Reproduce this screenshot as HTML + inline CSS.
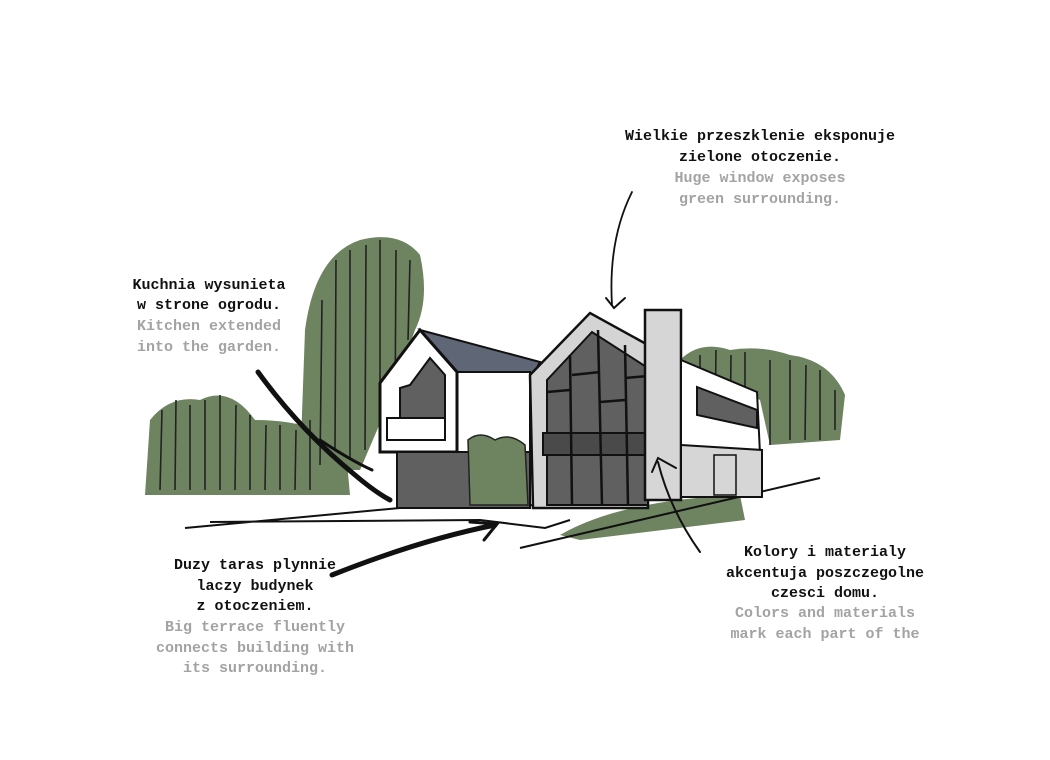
<!DOCTYPE html><html><head><style>body{margin:0;background:#fff}svg{display:block}
text{font-family:"Liberation Mono",monospace;font-weight:bold;font-size:15px;text-anchor:middle}
.g{fill:#a3a3a3}.b{fill:#111}</style></head><body>
<svg width="1050" height="760" viewBox="0 0 1050 760">
<!-- trees -->
<path d="M145,495 L150,420 Q170,395 200,400 Q230,385 255,420 Q290,420 320,430 L345,440 L350,495 Z" fill="#6e8460"/>
<path d="M300,470 L305,330 Q315,255 360,240 Q400,230 420,255 Q430,300 415,330 L390,400 L360,470 Z" fill="#6e8460"/>
<path d="M680,360 Q700,340 730,350 Q760,345 790,355 Q830,360 845,395 L840,440 L770,445 L760,400 Z" fill="#6e8460"/>
<g stroke="#222" stroke-width="1.6" fill="none">
<path d="M160,490 L162,410 M175,490 L176,400 M190,490 L190,405 M205,490 L205,400 M220,490 L220,395 M235,490 L236,405 M250,490 L250,415 M265,490 L266,425 M280,490 L280,425 M295,490 L296,430 M310,490 L310,420 M320,465 L322,300 M335,450 L336,260 M350,460 L350,250 M365,450 L366,245 M380,440 L380,240 M395,420 L396,250 M408,340 L410,260 M700,440 L700,355 M715,430 L716,350 M730,445 L731,355 M745,440 L745,352 M770,445 L770,360 M790,440 L790,360 M805,440 L806,365 M820,440 L820,370 M835,430 L835,390"/>
</g>
<!-- ground -->
<path d="M560,535 Q620,500 740,495 L745,520 L580,540 Z" fill="#6e8460"/>
<path d="M185,528 L400,508 L540,505 M210,522 L480,520 L545,528 L570,520 M520,548 L820,478" stroke="#111" stroke-width="2" fill="none"/>
<!-- left building -->
<polygon points="420,330 540,362 525,390 455,372" fill="#5f6675" stroke="#111" stroke-width="2"/>
<rect x="455" y="372" width="75" height="80" fill="#fff" stroke="#111" stroke-width="2"/>
<polygon points="380,383 420,330 457,372 457,452 380,452" fill="#fff" stroke="#111" stroke-width="3"/>
<polygon points="410,385 430,358 445,375 445,418 400,418 400,388" fill="#606060" stroke="#111" stroke-width="2"/>
<rect x="387" y="418" width="58" height="22" fill="#fff" stroke="#111" stroke-width="2"/>
<rect x="397" y="452" width="133" height="56" fill="#606060" stroke="#111" stroke-width="2"/>
<path d="M470,505 L468,440 Q480,430 495,440 Q510,432 525,445 L528,505 Z" fill="#6e8460" stroke="#222" stroke-width="1.5"/>
<!-- main gable -->
<polygon points="530,375 590,313 648,345 648,508 533,508" fill="#d4d4d4" stroke="#111" stroke-width="2.5"/>
<polygon points="547,380 592,332 648,368 648,505 547,505" fill="#606060" stroke="#111" stroke-width="2"/>
<rect x="543" y="433" width="106" height="22" fill="#4a4a4a" stroke="#111" stroke-width="2"/>
<path d="M570,355 L572,505 M598,330 L602,505 M625,345 L628,505 M547,392 L570,390 M572,375 L600,372 M600,402 L625,400 M625,378 L648,376" stroke="#111" stroke-width="2.5"/>
<!-- chimney -->
<rect x="645" y="310" width="36" height="190" fill="#d6d6d6" stroke="#111" stroke-width="2.5"/>
<!-- right wing -->
<polygon points="681,360 757,392 762,495 681,495" fill="#fff" stroke="#111" stroke-width="2"/>
<polygon points="681,445 762,450 762,497 681,497" fill="#d6d6d6" stroke="#111" stroke-width="2"/>
<polygon points="697,387 757,410 757,428 697,415" fill="#606060" stroke="#111" stroke-width="2"/>
<rect x="714" y="455" width="22" height="40" fill="none" stroke="#111" stroke-width="1.5"/>
<!-- arrows -->
<g stroke="#111" fill="none" stroke-linecap="round">
<path d="M632,192 Q608,240 612,305" stroke-width="1.8"/><path d="M606,298 L614,308 L625,298" stroke-width="2"/>
<path d="M258,372 Q300,430 355,475 Q375,492 390,500" stroke-width="5"/>
<path d="M320,440 Q350,460 372,470" stroke-width="3"/>
<path d="M332,575 Q420,540 495,525" stroke-width="5"/><path d="M470,522 L497,524 L484,540" stroke-width="3"/>
<path d="M700,552 Q670,510 658,462" stroke-width="2"/><path d="M652,472 L658,458 L676,468" stroke-width="2"/>
</g>
<!-- texts -->
<text x="760" y="140" class="b">Wielkie przeszklenie eksponuje</text>
<text x="760" y="161" class="b">zielone otoczenie.</text>
<text x="760" y="182" class="g">Huge window exposes</text>
<text x="760" y="203" class="g">green surrounding.</text>
<text x="209" y="289" class="b">Kuchnia wysunieta</text>
<text x="209" y="309" class="b">w strone ogrodu.</text>
<text x="209" y="330" class="g">Kitchen extended</text>
<text x="209" y="351" class="g">into the garden.</text>
<text x="255" y="569" class="b">Duzy taras plynnie</text>
<text x="255" y="590" class="b">laczy budynek</text>
<text x="255" y="610" class="b">z otoczeniem.</text>
<text x="255" y="631" class="g">Big terrace fluently</text>
<text x="255" y="652" class="g">connects building with</text>
<text x="255" y="672" class="g">its surrounding.</text>
<text x="825" y="556" class="b">Kolory i materialy</text>
<text x="825" y="577" class="b">akcentuja poszczegolne</text>
<text x="825" y="597" class="b">czesci domu.</text>
<text x="825" y="617" class="g">Colors and materials</text>
<text x="825" y="638" class="g">mark each part of the</text>
</svg></body></html>
